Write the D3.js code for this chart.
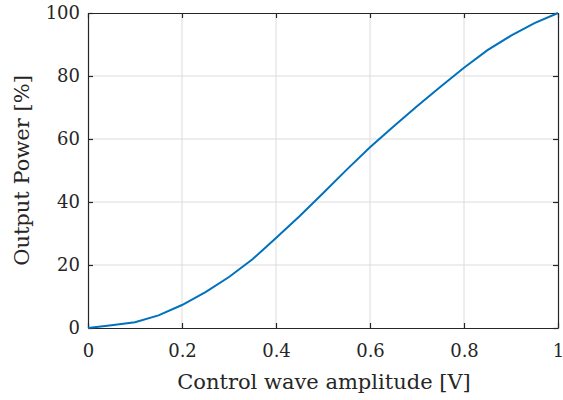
<!DOCTYPE html>
<html>
<head>
<meta charset="utf-8">
<script src="https://cdn.jsdelivr.net/npm/d3@7"></script>
<style>
	body { margin: 0; background: #fff; }
	text { font-family: 'DejaVu Serif', serif; fill: #262626; }
</style>
</head>
<body>
<div id="chart"></div>
<script>
// control wave amplitude [V]
var amplitude = [0, 0.05, 0.1, 0.15, 0.2, 0.25, 0.3, 0.35, 0.4, 0.45, 0.5,
	0.55, 0.6, 0.65, 0.7, 0.75, 0.8, 0.85, 0.9, 0.95, 1]
// output power [%]
var power = [0, 0.9, 1.8, 4.0, 7.3, 11.4, 16.2, 21.8, 28.6, 35.5, 42.8,
	50.2, 57.4, 64.0, 70.4, 76.6, 82.6, 88.2, 92.8, 96.8, 100]
var xTicks = [0, 0.2, 0.4, 0.6, 0.8, 1]
var yTicks = [0, 20, 40, 60, 80, 100]

function createChart() {
	let width = 563
	let height = 400
	var margin = { top: 13, right: 5, bottom: 72, left: 88 }
	var axisColor = '#262626'

	const svg = d3.select('#chart').append('svg')
		.attr('width', width)
		.attr('height', height)

	var x = d3.scaleLinear()
		.domain([0, 1])
		.range([margin.left, width - margin.right])

	var y = d3.scaleLinear()
		.domain([0, 100])
		.range([height - margin.bottom, margin.top])

	var data = amplitude.map((a, i) => ({ a: a, p: power[i] }))

	// grid
	svg.append('g').selectAll('line')
		.data(xTicks.slice(1, -1))
		.enter().append('line')
		.attr('x1', d => x(d)).attr('x2', d => x(d))
		.attr('y1', y(0)).attr('y2', y(100))
		.attr('stroke', '#dcdcdc').attr('stroke-width', 1)

	svg.append('g').selectAll('line')
		.data(yTicks.slice(1, -1))
		.enter().append('line')
		.attr('y1', d => y(d)).attr('y2', d => y(d))
		.attr('x1', x(0)).attr('x2', x(1))
		.attr('stroke', '#dcdcdc').attr('stroke-width', 1)

	// axes (ticks inward, MATLAB style)
	var tickLen = 5
	var xAxis = svg.append('g')
		.attr('transform', `translate(0,${y(0)})`)
		.call(d3.axisBottom(x).tickValues(xTicks).tickSizeInner(-tickLen).tickSizeOuter(0)
			.tickPadding(16).tickFormat(d => d === 0 || d === 1 ? d3.format('d')(d) : d3.format('.1f')(d)))
	var yAxis = svg.append('g')
		.attr('transform', `translate(${x(0)},0)`)
		.call(d3.axisLeft(y).tickValues(yTicks).tickSizeInner(-tickLen).tickSizeOuter(0).tickPadding(8))
	var xTop = svg.append('g')
		.attr('transform', `translate(0,${y(100)})`)
		.call(d3.axisTop(x).tickValues(xTicks).tickSizeInner(-tickLen).tickSizeOuter(0).tickFormat(''))
	var yRight = svg.append('g')
		.attr('transform', `translate(${x(1)},0)`)
		.call(d3.axisRight(y).tickValues(yTicks).tickSizeInner(-tickLen).tickSizeOuter(0).tickFormat(''))

	;[xAxis, yAxis, xTop, yRight].forEach(g => {
		g.selectAll('path').attr('stroke', axisColor).attr('stroke-width', 1.2)
		g.selectAll('line').attr('stroke', axisColor).attr('stroke-width', 1.2)
		g.selectAll('text')
			.style('font-family', "'DejaVu Serif', serif")
			.style('font-size', '18px')
			.attr('fill', axisColor)
	})

	// curve
	var line = d3.line()
		.x(d => x(d.a))
		.y(d => y(d.p))

	svg.append('path')
		.datum(data)
		.attr('d', line)
		.attr('fill', 'none')
		.attr('stroke', '#0072bd')
		.attr('stroke-width', 2)

	// labels
	svg.append('text')
		.attr('x', 324)
		.attr('y', 389)
		.attr('text-anchor', 'middle')
		.style('font-size', '21px')
		.text('Control wave amplitude [V]')

	svg.append('text')
		.attr('transform', `translate(29,${(y(0) + y(100)) / 2}) rotate(-90)`)
		.attr('text-anchor', 'middle')
		.style('font-size', '21px')
		.text('Output Power [%]')
}

createChart()
</script>
</body>
</html>
